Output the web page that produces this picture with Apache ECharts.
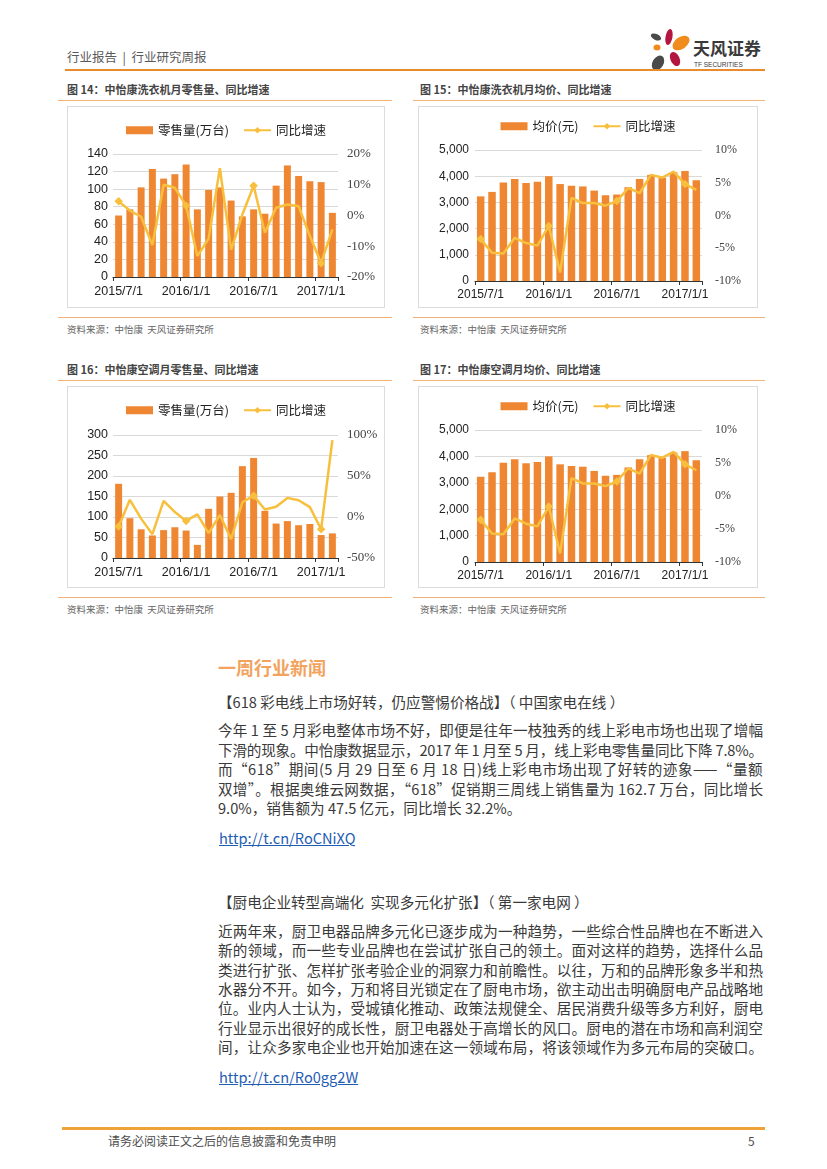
<!DOCTYPE html>
<html>
<head>
<meta charset="utf-8">
<script src="https://cdn.jsdelivr.net/npm/echarts@6/dist/echarts.min.js"></script>
<style>
html,body{margin:0;padding:0;background:#fff;}
#page{position:relative;width:827px;height:1169px;overflow:hidden;background:#fff;font-family:"Noto Sans CJK SC","Noto Sans",sans-serif;}
.abs{position:absolute;white-space:nowrap;}
.t{position:absolute;white-space:nowrap;height:20px;line-height:20px;}
.hl{position:absolute;}
.box{position:absolute;border:1px solid #DCDCDC;box-sizing:border-box;background:#fff;}
.ch{position:absolute;left:0;top:0;}
.body{font-size:14.6px;color:#3a3a3a;}
.jl{display:inline-block;}
.link{font-size:14.6px;color:#1F5DB3;text-decoration:underline;}
</style>
</head>
<body>
<div id="page">
  <div class="t" style="left:67px;top:47px;font-size:12.5px;color:#595959;">行业报告&nbsp;&nbsp;|&nbsp;&nbsp;行业研究周报</div>
  <svg class="abs" style="left:640px;top:22px" width="130" height="52" viewBox="0 0 130 52">
    <ellipse cx="16" cy="15" rx="5.5" ry="3" fill="#4A4A4A" transform="rotate(25 16 15)"/>
    <ellipse cx="29" cy="15" rx="3.5" ry="8" fill="#B3163E" transform="rotate(10 29 15)"/>
    <ellipse cx="41" cy="21" rx="9.5" ry="6" fill="#F08C1E" transform="rotate(-35 41 21)"/>
    <ellipse cx="17" cy="25.5" rx="3.5" ry="3" fill="#F08C1E"/>
    <ellipse cx="35" cy="37" rx="4.5" ry="7.5" fill="#B3163E" transform="rotate(-25 35 37)"/>
    <ellipse cx="18" cy="41" rx="5.5" ry="8" fill="#4A4A4A" transform="rotate(30 18 41)"/>
    <text x="53" y="33" font-size="17" font-weight="bold" fill="#3a3a3a" font-family="Noto Sans CJK SC">天风证券</text>
    <text x="54" y="45" font-size="6.5" fill="#3a3a3a" font-family="Liberation Sans">TF SECURITIES</text>
  </svg>
  <div class="hl" style="left:65px;top:69px;width:700px;height:2px;background:#E98A2C;"></div>

  <div class="t" style="left:67px;top:79px;font-size:11px;font-weight:bold;color:#444;">图 14：中怡康洗衣机月零售量、同比增速</div>
  <div class="t" style="left:420px;top:79px;font-size:11px;font-weight:bold;color:#444;">图 15：中怡康洗衣机月均价、同比增速</div>
  <div class="hl" style="left:58px;top:100px;width:334px;height:1px;background:#F2B27A;"></div>
  <div class="hl" style="left:413px;top:100px;width:352px;height:1px;background:#F2B27A;"></div>
  <div class="box" style="left:67px;top:106px;width:318px;height:202px;"><div id="c14" class="ch" style="width:316px;height:200px;"></div></div>
  <div class="box" style="left:418px;top:106px;width:340px;height:202px;"><div id="c15" class="ch" style="width:338px;height:200px;"></div></div>
  <div class="hl" style="left:58px;top:317px;width:334px;height:1px;background:#F2B27A;"></div>
  <div class="hl" style="left:413px;top:317px;width:352px;height:1px;background:#F2B27A;"></div>
  <div class="t" style="left:67px;top:319px;font-size:9.5px;color:#666;">资料来源：中怡康&nbsp; 天风证券研究所</div>
  <div class="t" style="left:420px;top:319px;font-size:9.5px;color:#666;">资料来源：中怡康&nbsp; 天风证券研究所</div>

  <div class="t" style="left:67px;top:359px;font-size:11px;font-weight:bold;color:#444;">图 16：中怡康空调月零售量、同比增速</div>
  <div class="t" style="left:420px;top:359px;font-size:11px;font-weight:bold;color:#444;">图 17：中怡康空调月均价、同比增速</div>
  <div class="hl" style="left:58px;top:380px;width:334px;height:1px;background:#F2B27A;"></div>
  <div class="hl" style="left:413px;top:380px;width:352px;height:1px;background:#F2B27A;"></div>
  <div class="box" style="left:67px;top:386px;width:318px;height:202px;"><div id="c16" class="ch" style="width:316px;height:200px;"></div></div>
  <div class="box" style="left:418px;top:386px;width:340px;height:202px;"><div id="c17" class="ch" style="width:338px;height:200px;"></div></div>
  <div class="hl" style="left:58px;top:597px;width:334px;height:1px;background:#F2B27A;"></div>
  <div class="hl" style="left:413px;top:597px;width:352px;height:1px;background:#F2B27A;"></div>
  <div class="t" style="left:67px;top:599px;font-size:9.5px;color:#666;">资料来源：中怡康&nbsp; 天风证券研究所</div>
  <div class="t" style="left:420px;top:599px;font-size:9.5px;color:#666;">资料来源：中怡康&nbsp; 天风证券研究所</div>

  <div class="t" style="left:218px;top:656px;height:22px;line-height:22px;font-size:18px;font-weight:bold;color:#F2A35E;">一周行业新闻</div>

  <div class="t body" style="left:218px;top:692px;">【618 彩电线上市场好转，仍应警惕价格战】（ 中国家电在线 ）</div>
  <div class="t body" style="left:218px;top:720px;"><span class="jl j">今年 1 至 5 月彩电整体市场不好，即便是往年一枝独秀的线上彩电市场也出现了增幅</span></div>
  <div class="t body" style="left:218px;top:739.5px;"><span class="jl j">下滑的现象。中怡康数据显示，2017 年 1 月至 5 月，线上彩电零售量同比下降 7.8%。</span></div>
  <div class="t body" style="left:218px;top:759px;"><span class="jl j">而“618”期间(5 月 29 日至 6 月 18 日)线上彩电市场出现了好转的迹象——“量额</span></div>
  <div class="t body" style="left:218px;top:778.5px;"><span class="jl j">双增”。根据奥维云网数据，“618”促销期三周线上销售量为 162.7 万台，同比增长</span></div>
  <div class="t body" style="left:218px;top:798px;"><span class="jl">9.0%，销售额为 47.5 亿元，同比增长 32.2%。</span></div>
  <div class="t link" style="left:219px;top:828px;">http://t.cn/RoCNiXQ</div>

  <div class="t body" style="left:218px;top:892px;">【厨电企业转型高端化&nbsp; 实现多元化扩张】（ 第一家电网 ）</div>
  <div class="t body" style="left:218px;top:921px;"><span class="jl j">近两年来，厨卫电器品牌多元化已逐步成为一种趋势，一些综合性品牌也在不断进入</span></div>
  <div class="t body" style="left:218px;top:940.3px;"><span class="jl j">新的领域，而一些专业品牌也在尝试扩张自己的领土。面对这样的趋势，选择什么品</span></div>
  <div class="t body" style="left:218px;top:959.6px;"><span class="jl j">类进行扩张、怎样扩张考验企业的洞察力和前瞻性。以往，万和的品牌形象多半和热</span></div>
  <div class="t body" style="left:218px;top:979px;"><span class="jl j">水器分不开。如今，万和将目光锁定在了厨电市场，欲主动出击明确厨电产品战略地</span></div>
  <div class="t body" style="left:218px;top:998.3px;"><span class="jl j">位。业内人士认为，受城镇化推动、政策法规健全、居民消费升级等多方利好，厨电</span></div>
  <div class="t body" style="left:218px;top:1017.6px;"><span class="jl j">行业显示出很好的成长性，厨卫电器处于高增长的风口。厨电的潜在市场和高利润空</span></div>
  <div class="t body" style="left:218px;top:1037px;"><span class="jl j">间，让众多家电企业也开始加速在这一领域布局，将该领域作为多元布局的突破口。</span></div>
  <div class="t link" style="left:219px;top:1067px;">http://t.cn/Ro0gg2W</div>

  <div class="hl" style="left:62px;top:1127px;width:703px;height:2.5px;background:#EDA338;"></div>
  <div class="t" style="left:108px;top:1131px;font-size:12px;color:#4d4d4d;">请务必阅读正文之后的信息披露和免责申明</div>
  <div class="t" style="left:748px;top:1131px;font-size:12px;color:#4d4d4d;">5</div>
</div>

<script>
// ---- data ----
const months = ['2015/7/1','2015/8/1','2015/9/1','2015/10/1','2015/11/1','2015/12/1',
  '2016/1/1','2016/2/1','2016/3/1','2016/4/1','2016/5/1','2016/6/1',
  '2016/7/1','2016/8/1','2016/9/1','2016/10/1','2016/11/1','2016/12/1',
  '2017/1/1','2017/2/1'];
const washerVolume = [70,77,102,123,112,117,128,77,99,102,87,69,77,72,104,127,115,109,108,73];
const washerVolumeYoY = [4.6,1.6,-0.4,-9.6,10,9,3.2,-13.2,-7.5,15.4,-11.2,0.3,9.7,-5.6,2.5,3.6,3,-6.7,-15.5,-4.5];
const washerPrice = [3230,3400,3760,3890,3740,3790,4000,3700,3640,3610,3450,3270,3300,3580,3890,4050,3950,4150,4200,3850];
const washerPriceYoY = [-3.6,-5.7,-5.8,-3.4,-4.2,-4.6,-1.6,-8.7,2.7,1.9,1.9,1.5,2.2,4.2,3.4,6.2,5.8,6.7,4.8,3.9];
const acVolume = [181,97,70,55,68,75,67,32,120,150,159,224,244,115,84,90,80,83,56,60];
const acVolumeYoY = [-11.7,21,-2,-21,19.7,6,-4.8,3.2,-19.7,2.4,-27,18,26,9.2,12.5,23.3,20.5,12,-15,93.7];
const acPrice = [3230,3400,3760,3890,3740,3790,4000,3700,3640,3610,3450,3270,3300,3580,3890,4050,3950,4150,4200,3850];
const acPriceYoY = [-3.6,-5.7,-5.8,-3.4,-4.2,-4.6,-1.6,-8.7,2.7,1.9,1.9,1.5,2.2,4.2,3.4,6.2,5.8,6.7,4.8,3.9];
const yoyName = '同比增速';

const BAR = '#EF8631', LINE = '#F8BF3C';

function makeChart(id, cfg) {
  const chart = echarts.init(document.getElementById(id));
  chart.setOption({
    animation: false,
    textStyle: { fontFamily: 'Liberation Sans, Noto Sans CJK SC' },
    legend: {
      top: cfg.legendTop, left: 'center', itemWidth: 27, itemHeight: 8, itemGap: 14,
      textStyle: { fontSize: 12.5, color: '#222', fontFamily: 'Noto Sans CJK SC' },
      data: [{ name: cfg.barName, icon: 'rect' }, { name: yoyName }]
    },
    grid: cfg.grid,
    xAxis: {
      type: 'category', data: months,
      axisLine: { lineStyle: { color: '#333', width: 1.2 } },
      axisTick: { show: true, interval: 5, length: 4, lineStyle: { color: '#333' } },
      axisLabel: { interval: 5, fontSize: cfg.fs, color: '#222', margin: 8 }
    },
    yAxis: [
      { type: 'value', min: 0, max: cfg.lmax, interval: cfg.lint,
        splitLine: { lineStyle: { color: '#D9D9D9' } },
        axisLine: { show: false }, axisTick: { show: false },
        axisLabel: { fontSize: cfg.fs, color: '#222', margin: cfg.lmargin,
          formatter: v => cfg.comma ? v.toLocaleString('en-US') : String(v) } },
      { type: 'value', min: cfg.rmin, max: cfg.rmax, interval: cfg.rint, position: 'right',
        splitLine: { show: false }, axisLine: { show: false }, axisTick: { show: false },
        axisLabel: { fontSize: cfg.rfs, color: '#444', fontFamily: 'Liberation Serif', margin: cfg.rmargin,
          formatter: '{value}%' } }
    ],
    series: [
      { type: 'bar', name: cfg.barName, data: cfg.bars, barCategoryGap: cfg.gap,
        itemStyle: { color: BAR } },
      { type: 'line', name: yoyName, yAxisIndex: 1, data: cfg.line,
        symbol: 'diamond', symbolSize: 8.5,
        lineStyle: { color: LINE, width: 2.5 }, itemStyle: { color: LINE } }
    ]
  });
}

makeChart('c14', { barName: '零售量(万台)', bars: washerVolume, line: washerVolumeYoY,
  legendTop: 12, grid: { left: 45, right: 46, top: 47, bottom: 30 },
  lmax: 140, lint: 20, rmin: -20, rmax: 20, rint: 10, fs: 12.5, rfs: 13, lmargin: 5, rmargin: 9, gap: '38%' });
makeChart('c15', { barName: '均价(元)', bars: washerPrice, line: washerPriceYoY,
  legendTop: 8, grid: { left: 56, right: 55, top: 43, bottom: 26 },
  lmax: 5000, lint: 1000, rmin: -10, rmax: 10, rint: 5, fs: 12, rfs: 12, lmargin: 6, rmargin: 13, comma: true, gap: '34%' });
makeChart('c16', { barName: '零售量(万台)', bars: acVolume, line: acVolumeYoY,
  legendTop: 12, grid: { left: 45, right: 46, top: 48, bottom: 29 },
  lmax: 300, lint: 50, rmin: -50, rmax: 100, rint: 50, fs: 12.5, rfs: 13, lmargin: 5, rmargin: 9, gap: '38%' });
makeChart('c17', { barName: '均价(元)', bars: acPrice, line: acPriceYoY,
  legendTop: 8, grid: { left: 56, right: 55, top: 43, bottom: 25 },
  lmax: 5000, lint: 1000, rmin: -10, rmax: 10, rint: 5, fs: 12, rfs: 12, lmargin: 6, rmargin: 13, comma: true, gap: '34%' });

// justify body lines to a fixed width
function justifyLines() {
  const W = 545;
  document.querySelectorAll('.j').forEach(el => {
    el.style.letterSpacing = '0px';
    const w = el.getBoundingClientRect().width;
    const n = Array.from(el.textContent).length;
    if (n > 1) el.style.letterSpacing = ((W - w) / (n - 1)) + 'px';
  });
}
justifyLines();
if (document.fonts && document.fonts.ready) document.fonts.ready.then(justifyLines);
</script>
</body>
</html>
